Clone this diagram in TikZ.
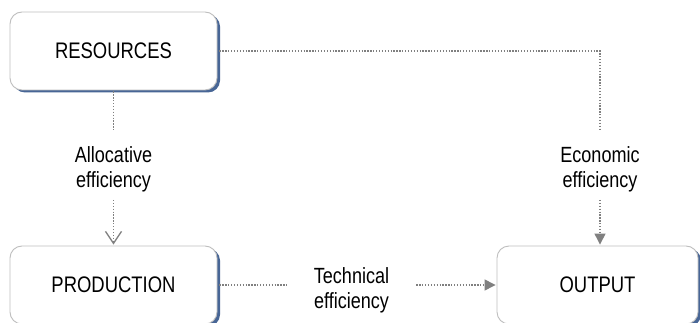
\documentclass[tikz,border=0pt]{standalone}
\usepackage{fontspec}
\setmainfont{Liberation Sans}[FakeStretch=0.82]
\usetikzlibrary{arrows.meta,shadows}
\definecolor{boxline}{RGB}{190,190,190}
\definecolor{shadowblue}{RGB}{72,102,150}
\definecolor{dotgray}{RGB}{128,128,128}
\tikzset{
  box/.style={draw=boxline, line width=0.9pt, rounded corners=12pt, fill=white,
    drop shadow={shadow xshift=3pt, shadow yshift=-2.5pt, fill=shadowblue, opacity=1},
    font=\fontsize{22.5}{25}\selectfont, inner sep=0pt},
  lbl/.style={font=\fontsize{22}{25}\selectfont, align=center, inner xsep=0pt, inner ysep=8pt},
  dotline/.style={draw=dotgray, line width=1.3pt, dash pattern=on 1.3pt off 1.6pt},
  filltip/.style={-{Triangle[length=11pt,width=11pt,fill=dotgray]}},
  opentip/.style={-{Straight Barb[length=12pt,width=16pt,line width=1.3pt]}}
}
\begin{document}
\begin{tikzpicture}[x=1pt,y=-1pt]
\useasboundingbox[fill=white] (0,0) rectangle (700,323);
\node[box, minimum width=207pt, minimum height=78pt] (res) at (113.5,51) {RESOURCES};
\node[box, minimum width=207pt, minimum height=78pt] (prod) at (113.5,285) {PRODUCTION};
\node[box, minimum width=201pt, minimum height=78pt] (out) at (597.5,285) {OUTPUT};
\node[lbl] (alloc) at (113.5,169) {Allocative\\efficiency};
\node[lbl] (econ) at (600,169) {Economic\\efficiency};
\node[lbl, inner xsep=27pt] (tech) at (351.5,290.5) {Technical\\efficiency};
% Allocative
\draw[dotline, shorten <=1pt, shorten >=6pt] (res.south) -- (alloc.north);
\draw[dotline, opentip, shorten >=1pt] (alloc.south) -- (alloc.south |- prod.north);
% Economic
\draw[dotline, shorten <=2pt, shorten >=9pt] (res.east) -| (econ.north);
\draw[dotline, filltip, shorten >=1pt] (econ.south) -- (econ.south |- out.north);
% Technical
\draw[dotline, shorten <=2pt] (prod.east) -- (prod.east -| tech.west);
\draw[dotline, filltip, shorten >=1pt] (prod.east -| tech.east) -- (prod.east -| out.west);
\end{tikzpicture}
\end{document}
